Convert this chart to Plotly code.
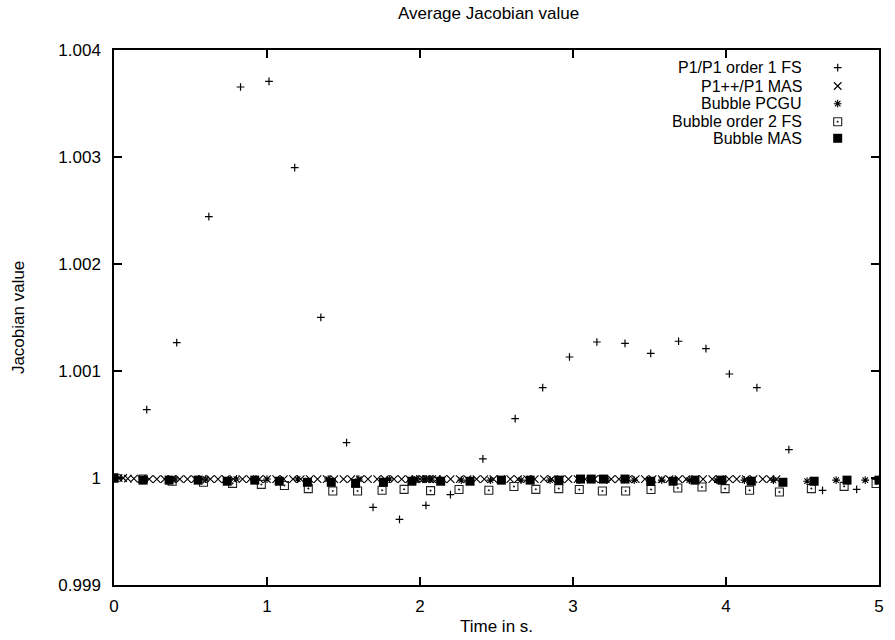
import plotly.graph_objects as go

# ---------------- data ----------------
p1_fs_t = [0.0, 0.214, 0.410, 0.620, 0.827, 1.013, 1.181, 1.352, 1.520, 1.693, 1.866, 2.039, 2.199,
           2.411, 2.622, 2.802, 2.977, 3.156, 3.340, 3.508, 3.690, 3.869, 4.022, 4.202, 4.411, 4.631, 4.854]
p1_fs_v = [1.0, 1.000639, 1.001265, 1.002443, 1.003654, 1.003707, 1.002901, 1.001502, 1.000330, 0.999726,
           0.999613, 0.999745, 0.999845, 1.000178, 1.000555, 1.000845, 1.001131, 1.001271, 1.001259,
           1.001165, 1.001278, 1.001209, 1.000972, 1.000845, 1.000265, 0.999885, 0.999894]

p1pp_mas_t = [0.00, 0.03, 0.06, 0.09, 0.13, 0.18, 0.23, 0.28, 0.33, 0.38, 0.43, 0.48, 0.53, 0.58, 0.63,
              0.68, 0.73, 0.78, 0.84, 0.89, 0.95, 1.00, 1.06, 1.11, 1.17, 1.22, 1.28, 1.33, 1.39, 1.44,
              1.50, 1.55, 1.61, 1.66, 1.72, 1.77, 1.83, 1.88, 1.93, 1.97, 2.00, 2.02, 2.04, 2.06, 2.08,
              2.11, 2.15, 2.20, 2.26, 2.31, 2.37, 2.42, 2.48, 2.53, 2.59, 2.64, 2.70, 2.75, 2.81, 2.86,
              2.92, 2.97, 3.03, 3.08, 3.14, 3.19, 3.25, 3.30, 3.36, 3.41, 3.47, 3.52, 3.58, 3.63, 3.69,
              3.74, 3.80, 3.85, 3.91, 3.96, 4.02, 4.07, 4.13, 4.18, 4.24, 4.29, 4.33]
p1pp_mas_v = [1.0, 1.0, 1.0, 0.999995, 0.999995, 0.99999, 0.99999, 0.99999, 0.99999, 0.99999,
              0.99999, 0.99999, 0.99999, 0.99999, 0.99999, 0.99999, 0.99999, 0.99999, 0.99999, 0.99999,
              0.99999, 0.99999, 0.99999, 0.99999, 0.99999, 0.99999, 0.99999, 0.99999, 0.99999, 0.99999,
              0.99999, 0.99999, 0.99999, 0.99999, 0.99999, 0.99999, 0.99999, 0.99999, 0.99999, 0.99999,
              0.99999, 0.99999, 0.99999, 0.99999, 0.99999, 0.99999, 0.99999, 0.99999, 0.99999, 0.99999,
              0.99999, 0.99999, 0.99999, 0.99999, 0.99999, 0.99999, 0.99999, 0.99999, 0.99999, 0.99999,
              0.99999, 0.99999, 0.99999, 0.99999, 0.99999, 0.99999, 0.99999, 0.99999, 0.99999, 0.99999,
              0.99999, 0.99999, 0.99999, 0.99999, 0.99999, 0.99999, 0.99999, 0.99999, 0.99999, 0.99999,
              0.99999, 0.99999, 0.99999, 0.99999, 0.99999, 0.99999, 0.99999]

pcgu_t = [0.0, 0.20, 0.40, 0.60, 0.80, 1.00, 1.20, 1.40, 1.60, 1.80, 1.98, 2.03, 2.07, 2.27, 2.46,
          2.66, 2.85, 3.04, 3.22, 3.40, 3.58, 3.76, 3.94, 4.12, 4.31, 4.53, 4.72, 4.91]
pcgu_v = [1.0, 0.99999, 0.99999, 0.99999, 0.99999, 0.99999, 0.99999, 0.99999, 0.99999, 0.99999,
          0.99999, 0.99999, 0.99999, 0.99998, 0.99998, 0.99998, 0.99998, 0.99998, 0.99998, 0.99998,
          0.99998, 0.99998, 0.99998, 0.99998, 0.99998, 0.99997, 0.99998, 0.99998]

bub_fs_t = [0.0, 0.19, 0.38, 0.585, 0.775, 0.963, 1.114, 1.270, 1.430, 1.592, 1.752, 1.896, 2.069,
            2.255, 2.450, 2.614, 2.757, 2.907, 3.041, 3.192, 3.344, 3.510, 3.685, 3.843, 3.994, 4.154,
            4.349, 4.558, 4.772, 4.981]
bub_fs_v = [1.0, 0.99999, 0.99997, 0.99996, 0.99995, 0.99994, 0.99993, 0.999901, 0.999879, 0.999879,
            0.999885, 0.999894, 0.999882, 0.999892, 0.999885, 0.99992, 0.999894, 0.999901, 0.999892,
            0.999879, 0.999879, 0.999892, 0.999907, 0.999916, 0.999901, 0.999885, 0.999869, 0.999901,
            0.999922, 0.999948]

bub_mas_t = [0.0, 0.19, 0.36, 0.55, 0.74, 0.92, 1.08, 1.264, 1.420, 1.579, 1.761, 1.947, 2.135, 2.327,
             2.532, 2.720, 2.908, 3.049, 3.119, 3.199, 3.340, 3.508, 3.654, 3.797, 3.973, 4.165, 4.372,
             4.576, 4.791, 5.0]
bub_mas_v = [1.0, 0.99998, 0.99998, 0.99998, 0.99997, 0.99998, 0.99997, 0.99996, 0.99996, 0.99995,
             0.99996, 0.99997, 0.99997, 0.99997, 0.99998, 0.99998, 0.99998, 0.99999, 0.99999, 0.99999,
             0.99999, 0.99997, 0.99997, 0.99998, 0.99998, 0.99997, 0.99996, 0.99997, 0.99998, 0.99998]

series_names = ["P1/P1 order 1 FS", "P1++/P1 MAS", "Bubble PCGU", "Bubble order 2 FS", "Bubble MAS"]

x_ticks = [0, 1, 2, 3, 4, 5]
y_ticks = [0.999, 1.0, 1.001, 1.002, 1.003, 1.004]
y_tick_text = ["0.999", "1", "1.001", "1.002", "1.003", "1.004"]

title_text = "Average Jacobian value"
x_title = "Time in s."
y_title = "Jacobian value"

# ---------------- styles ----------------
FONT = "Liberation Sans, Arial, Helvetica, sans-serif"
FS = 17
LEG_FS = 16
INK = "black"

styles = [
    dict(symbol="cross-thin-open", size=5.5, line=dict(color=INK, width=1.2), color=INK),
    dict(symbol="x-thin-open", size=7.5, line=dict(color=INK, width=1.1), color=INK),
    dict(symbol="asterisk-open", size=6.5, line=dict(color=INK, width=1.1), color=INK),
    dict(symbol="square-open-dot", size=8, line=dict(color="#222", width=1.1), color="#222"),
    dict(symbol="square", size=9, line=dict(color=INK, width=0), color=INK),
]

data = [(p1_fs_t, p1_fs_v), (p1pp_mas_t, p1pp_mas_v), (pcgu_t, pcgu_v),
        (bub_fs_t, bub_fs_v), (bub_mas_t, bub_mas_v)]

fig = go.Figure()
for (t, v), name, st in zip(data, series_names, styles):
    fig.add_trace(go.Scatter(x=t, y=v, mode="markers", name=name, marker=st,
                             showlegend=False, hoverinfo="x+y+name"))

# legend keys drawn on an overlay axis in plot-area fractions
legend_rows = [0.9669, 0.9327, 0.8996, 0.8660, 0.8350]
legend_text_x = 0.901
legend_key_x = 0.946
for name, st, ry in zip(series_names, styles, legend_rows):
    fig.add_trace(go.Scatter(x=[legend_key_x], y=[ry], mode="markers", marker=st,
                             xaxis="x2", yaxis="y2", showlegend=False, hoverinfo="skip"))

annotations = []
for name, ry in zip(series_names, legend_rows):
    annotations.append(dict(x=legend_text_x, y=ry, xref="paper", yref="paper", text=name,
                            showarrow=False, xanchor="right", yanchor="middle",
                            height=17, borderpad=0, valign="middle",
                            font=dict(family=FONT, size=LEG_FS, color=INK)))
annotations += [
    dict(x=0.49, y=1.0673, xref="paper", yref="paper", text=title_text, showarrow=False,
         xanchor="center", yanchor="middle", font=dict(family=FONT, size=FS, color=INK)),
    dict(x=0.5, y=-0.0785, xref="paper", yref="paper", text=x_title, showarrow=False,
         xanchor="center", yanchor="middle", font=dict(family=FONT, size=FS, color=INK)),
    dict(x=-0.1247, y=0.5, xref="paper", yref="paper", text=y_title, showarrow=False,
         textangle=-90, xanchor="center", yanchor="middle", font=dict(family=FONT, size=FS, color=INK)),
]

axis_common = dict(showgrid=False, zeroline=False, showline=True, linecolor=INK, linewidth=1.5,
                   mirror="ticks", ticks="inside", ticklen=8, tickwidth=1.5, tickcolor=INK,
                   tickfont=dict(family=FONT, size=FS, color=INK))

fig.update_layout(
    width=895, height=640,
    margin=dict(l=114, r=11, t=50, b=55),
    paper_bgcolor="white", plot_bgcolor="white",
    font=dict(family=FONT, size=FS, color=INK),
    xaxis=dict(range=[0, 5], tickvals=x_ticks, ticklabelstandoff=5, **axis_common),
    yaxis=dict(range=[0.999, 1.004], tickvals=y_ticks, ticktext=y_tick_text,
               ticklabelstandoff=8, **axis_common),
    xaxis2=dict(range=[0, 1], overlaying="x", visible=False, fixedrange=True),
    yaxis2=dict(range=[0, 1], overlaying="y", visible=False, fixedrange=True),
    annotations=annotations,
    showlegend=False,
)

fig.write_html("out.html")
